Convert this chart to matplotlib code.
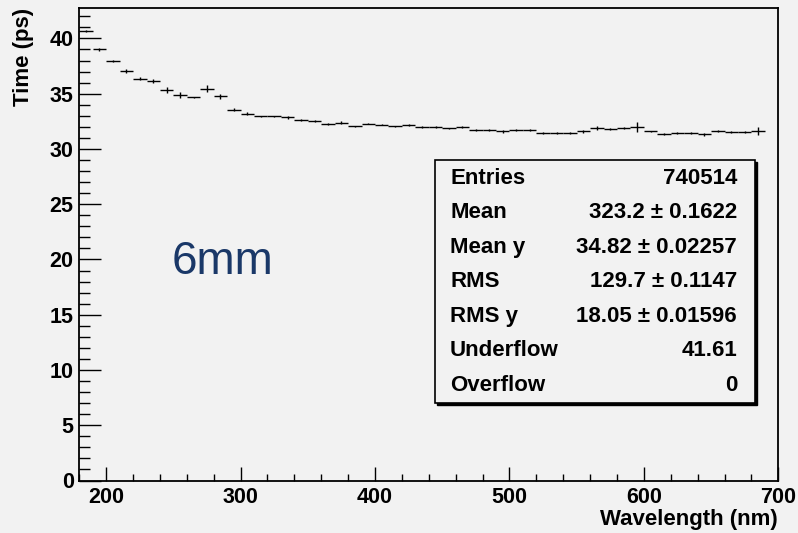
import numpy as np
import matplotlib
matplotlib.use('Agg')
import matplotlib.pyplot as plt
from matplotlib.patches import Rectangle
from matplotlib.ticker import MultipleLocator

# profile bins, 10 nm wide starting at 180 nm
bin_low = np.arange(180, 700, 10)[:51]
time_ps = [40.65, 39.0, 37.95, 37.05, 36.35, 36.14, 35.36, 34.87, 34.66, 35.45,
           34.78, 33.54, 33.18, 32.97, 32.97, 32.85, 32.61, 32.52, 32.28, 32.37,
           32.04, 32.28, 32.18, 32.04, 32.16, 31.96, 31.96, 31.85, 31.96, 31.73,
           31.73, 31.58, 31.73, 31.73, 31.46, 31.46, 31.46, 31.58, 31.9, 31.83,
           31.92, 31.97, 31.58, 31.37, 31.46, 31.46, 31.31, 31.61, 31.52, 31.52,
           31.61]
time_err = [0.08, 0.1, 0.1, 0.15, 0.15, 0.15, 0.27, 0.25, 0.08, 0.3,
            0.22, 0.12, 0.15, 0.05, 0.05, 0.1, 0.1, 0.1, 0.1, 0.12,
            0.05, 0.05, 0.05, 0.05, 0.1, 0.1, 0.08, 0.08, 0.08, 0.08,
            0.08, 0.1, 0.08, 0.08, 0.08, 0.08, 0.08, 0.1, 0.2, 0.08,
            0.08, 0.45, 0.08, 0.08, 0.08, 0.08, 0.1, 0.1, 0.08, 0.08,
            0.35]

stat_names = ['Entries', 'Mean', 'Mean y', 'RMS', 'RMS y', 'Underflow', 'Overflow']
stat_values = ['740514', '323.2 \u00b1 0.1622', '34.82 \u00b1 0.02257',
               '129.7 \u00b1 0.1147', '18.05 \u00b1 0.01596', '41.61', '0']

W, H = 798, 533
bg = '#f2f2f2'
bold = dict(family=['Liberation Sans', 'DejaVu Sans'], weight='bold')

def fx(px):
    return px / W

def fy(py):
    return 1 - py / H

fig = plt.figure(figsize=(W / 100, H / 100), dpi=100, facecolor=bg)
ax = fig.add_axes([fx(79.3), fy(480.5), fx(778.3) - fx(79.3), fy(8) - fy(480.5)])
ax.set_facecolor(bg)

centers = bin_low + 5
ax.errorbar(centers, time_ps, xerr=5, yerr=time_err, fmt='none',
            ecolor='black', elinewidth=1.0, capsize=0)

ax.set_xlim(180, 700)
ax.set_ylim(0, 42.75)
ax.xaxis.set_major_locator(MultipleLocator(100))
ax.xaxis.set_minor_locator(MultipleLocator(20))
ax.yaxis.set_major_locator(MultipleLocator(5))
ax.yaxis.set_minor_locator(MultipleLocator(1))
ax.tick_params(axis='x', which='major', direction='in', length=10, width=1.0, pad=5)
ax.tick_params(axis='x', which='minor', direction='in', length=5, width=1.0)
ax.tick_params(axis='y', which='major', direction='in', length=16, width=1.0, pad=4)
ax.tick_params(axis='y', which='minor', direction='in', length=8, width=1.0)
for lab in ax.get_xticklabels() + ax.get_yticklabels():
    lab.set_fontfamily(bold['family'])
    lab.set_fontweight('bold')
    lab.set_fontsize(15.5)
for sp in ax.spines.values():
    sp.set_linewidth(1.3)

fig.text(fx(778), fy(519), 'Wavelength (nm)', ha='right', va='center', fontsize=16, **bold)
fig.text(fx(24), fy(8), 'Time (ps)', ha='center', va='top', rotation=90, fontsize=16, **bold)

fig.text(fx(172), fy(262), '6mm', ha='left', va='center', fontsize=33,
         family=['Liberation Sans', 'DejaVu Sans'], color='#1a3868')

# stats box
bx0, by0, bx1, by1 = 435, 160, 755, 403
fig.patches.append(Rectangle((fx(bx0 + 2), fy(by1 + 2)), fx(bx1) - fx(bx0), fy(by0) - fy(by1),
                             transform=fig.transFigure, facecolor='black', edgecolor='black', zorder=5))
fig.patches.append(Rectangle((fx(bx0), fy(by1)), fx(bx1) - fx(bx0), fy(by0) - fy(by1),
                             transform=fig.transFigure, facecolor=bg, edgecolor='black',
                             linewidth=1.2, zorder=6))
for i, (name, val) in enumerate(zip(stat_names, stat_values)):
    yy = 178 + i * 34.6
    fig.text(fx(450), fy(yy), name, ha='left', va='center', fontsize=16, zorder=7, **bold)
    fig.text(fx(737), fy(yy), val, ha='right', va='center', fontsize=16, zorder=7, **bold)

fig.savefig('out.png', dpi=100, facecolor=bg)
